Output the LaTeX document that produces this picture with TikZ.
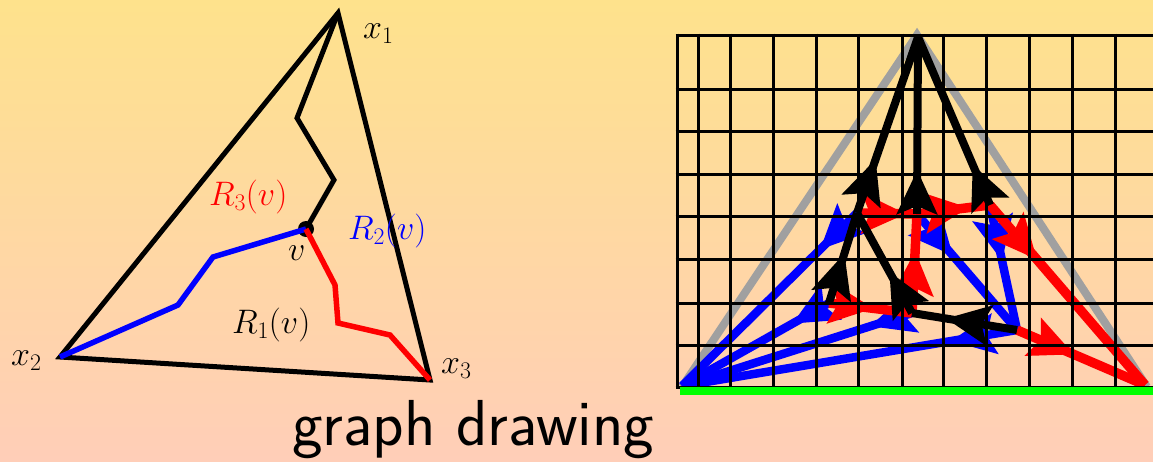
\RequirePackage{fix-cm}
\documentclass[tikz,border=0pt]{standalone}
\usepackage{fontspec}
\usetikzlibrary{arrows.meta,decorations.markings}
\definecolor{bgtop}{RGB}{254,226,140}
\definecolor{bgbot}{RGB}{255,206,184}
\definecolor{gtri}{RGB}{160,160,160}
\begin{document}
\begin{tikzpicture}[x=1pt,y=-1pt,
  lab/.style={inner sep=0pt,anchor=base west,font=\fontsize{34}{40}\selectfont},
  thick5/.style={line width=5pt},
  gedge/.style={line width=8pt},
  redge/.style={red,line width=9.5pt},
  bedge/.style={blue,line width=8.5pt},
  arr/.style={postaction={decorate},decoration={markings,mark=at position #1 with {\arrow{Stealth[length=44pt,width=40pt,inset=8pt]}}}},
  gridline/.style={line width=3pt}]
\useasboundingbox (0,0) rectangle (1153,461);
\shade[top color=bgtop,bottom color=bgbot] (0,0) rectangle (1153,461);

% ---------- left diagram ----------
\coordinate (x1) at (338,13);
\coordinate (x2) at (60,357);
\coordinate (x3) at (430,380);
\coordinate (v) at (306,229);
\coordinate (p1) at (297,118);
\coordinate (p2) at (334,180);
\coordinate (b1) at (213,257);
\coordinate (b2) at (178,305);
\coordinate (r1) at (335,285);
\coordinate (r2) at (338,323);
\coordinate (r3) at (390,335);
\draw[thick5] (x1) -- (x2) -- (x3) -- cycle;
\draw[thick5] (x1) -- (p1) -- (p2) -- (v);
\fill (v) circle (8pt);
\draw[blue,thick5,line width=5.5pt] (v) -- (b1) -- (b2) -- (x2);
\draw[red,thick5,line width=5.5pt] (v) -- (r1) -- (r2) -- (r3) -- (x3);
\node[lab] (lx1) at (363,38) {$x_1$};
\node[lab] (lx2) at (11,365) {$x_2$};
\node[lab] (lx3) at (441,373) {$x_3$};
\node[lab] (lv) at (288,260) {$v$};
\node[lab,text=red] (lr3) at (209,205) {$R_3(v)$};
\node[lab,text=blue] (lr2) at (348,239) {$R_2(v)$};
\node[lab] (lr1) at (232,333) {$R_1(v)$};
\node[inner sep=0pt,anchor=base west,font=\fontsize{65}{78}\selectfont\sffamily] (title) at (292,445) {graph drawing};

% ---------- right diagram ----------
\coordinate (g1) at (682,387);
\coordinate (g2) at (917,35);
\coordinate (g3) at (1147,387);
\draw[gtri,line width=8pt] (g1) -- (g2) -- (g3);

\coordinate (T) at (918,37);
\coordinate (L) at (682,386);
\coordinate (R) at (1145,385);
\coordinate (A) at (857,213);
\coordinate (B) at (917,214);
\coordinate (C) at (990,205);
\coordinate (D) at (829,303);
\coordinate (E) at (912,313);
\coordinate (F) at (1017,330);

\draw[bedge,arr=52pt] (A) -- (L);
\draw[bedge,arr=55pt] (B) -- (F);
\draw[bedge,arr=57pt] (C) -- (F);
\draw[bedge,arr=42pt] (D) -- (L);
\draw[bedge,arr=44pt] (E) -- (L);
\draw[bedge,arr=67pt] (F) -- (L);

\draw[redge,arr=49pt] (A) -- (B);
\draw[redge,arr=52pt] (B) -- (C);
\draw[redge,arr=72pt] (C) -- (R);
\draw[redge,arr=62pt] (E) -- (B);
\draw[redge,arr=45pt] (D) -- (E);
\draw[redge,arr=62pt] (F) -- (R);

\draw[black,gedge,arr=57pt] (A) -- (T);
\draw[black,gedge,arr=44pt] (B) -- (T);
\draw[black,gedge,arr=44pt] (C) -- (T);
\draw[black,gedge,arr=52pt] (D) -- (A);
\draw[black,gedge,arr=47pt] (E) -- (A);
\draw[black,gedge,arr=72pt] (F) -- (E);

\foreach \xx in {677,698,730,773,816,858,902,943,986,1029,1072,1115}
  \draw[gridline] (\xx,33.5) -- (\xx,388);
\foreach \yy in {35,89,131,174,216,259,303,345,387}
  \draw[gridline] (675.5,\yy) -- (1160,\yy);

\coordinate (gl) at (680,391);
\coordinate (gr) at (1160,391);
\draw[green,line width=8pt] (gl) -- (gr);
\end{tikzpicture}
\end{document}
